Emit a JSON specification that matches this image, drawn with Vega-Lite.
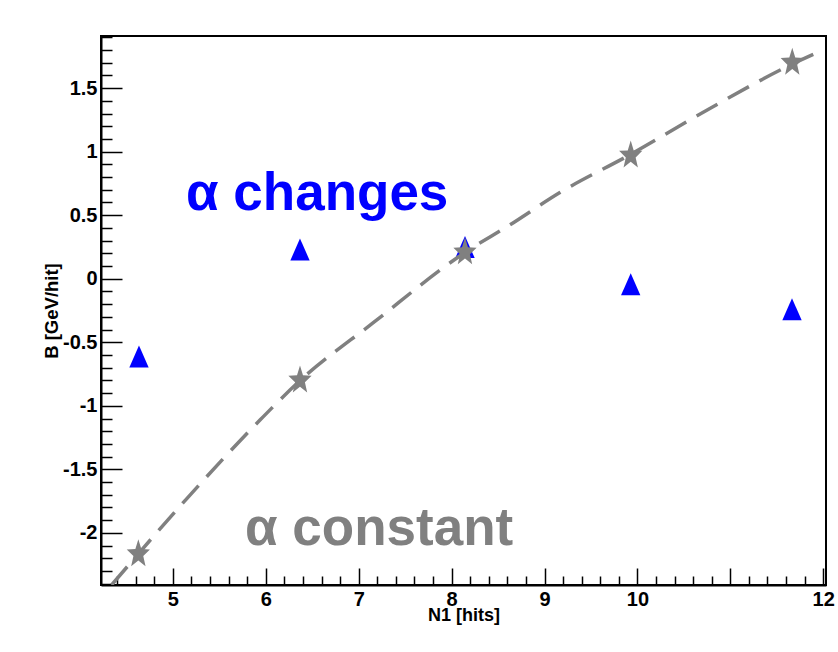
{
  "$schema": "https://vega.github.io/schema/vega-lite/v6.json",
  "width": 725,
  "height": 549,
  "autosize": {"type": "none"},
  "padding": {"left": 101, "top": 36, "right": 12, "bottom": 67},
  "background": "white",
  "config": {
    "view": {"stroke": "black", "strokeWidth": 2},
    "font": "Liberation Sans"
  },
  "datasets": {
    "changes": [
      {"N1": 4.635, "B": -0.612},
      {"N1": 6.368, "B": 0.23},
      {"N1": 8.144, "B": 0.25},
      {"N1": 9.928, "B": -0.043},
      {"N1": 11.664, "B": -0.24}
    ],
    "constant": [
      {"N1": 4.628, "B": -2.167},
      {"N1": 6.368, "B": -0.8},
      {"N1": 8.144, "B": 0.208},
      {"N1": 9.928, "B": 0.97},
      {"N1": 11.667, "B": 1.70}
    ],
    "fit": [
      {"N1": 4.34, "B": -2.41},
      {"N1": 5.15, "B": -1.73},
      {"N1": 5.94, "B": -1.11},
      {"N1": 6.37, "B": -0.80},
      {"N1": 7.15, "B": -0.35},
      {"N1": 8.14, "B": 0.205},
      {"N1": 8.62, "B": 0.42},
      {"N1": 9.17, "B": 0.68},
      {"N1": 9.93, "B": 0.98},
      {"N1": 10.78, "B": 1.34},
      {"N1": 11.67, "B": 1.69},
      {"N1": 11.97, "B": 1.79}
    ],
    "labels": [
      {"label": "α changes", "N1": 5.141, "B": 0.54},
      {"label": "α constant", "N1": 5.776, "B": -2.095}
    ]
  },
  "encoding": {
    "x": {
      "field": "N1",
      "type": "quantitative",
      "scale": {"domain": [4.226, 12.03], "nice": false, "zero": false},
      "axis": {
        "title": "N1 [hits]",
        "values": [4.4,4.6,4.8,5,5.2,5.4,5.6,5.8,6,6.2,6.4,6.6,6.8,7,7.2,7.4,7.6,7.8,8,8.2,8.4,8.6,8.8,9,9.2,9.4,9.6,9.8,10,10.2,10.4,10.6,10.8,11,11.2,11.4,11.6,11.8,12],
        "labelExpr": "abs(datum.value - round(datum.value)) < 0.001 && round(datum.value) != 11 ? toString(round(datum.value)) : ''",
        "tickSize": {"condition": {"test": "abs(datum.value - round(datum.value)) < 0.001", "value": -17}, "value": -9},
        "tickColor": "black",
        "tickWidth": 1.5,
        "domainColor": "black",
        "domainWidth": 2,
        "grid": false,
        "labelFont": "Liberation Sans",
        "labelFontWeight": "bold",
        "labelFontSize": 20,
        "labelColor": "black",
        "labelPadding": 21,
        "labelFlush": false,
        "labelOverlap": false,
        "titleFont": "Liberation Sans",
        "titleFontWeight": "bold",
        "titleFontSize": 18,
        "titleColor": "black",
        "titleY": 35,
        "titleBaseline": "alphabetic",
        "titleAlign": "center"
      }
    },
    "y": {
      "field": "B",
      "type": "quantitative",
      "scale": {"domain": [-2.41, 1.91], "nice": false, "zero": false},
      "axis": {
        "title": "B [GeV/hit]",
        "values": [-2.4,-2.3,-2.2,-2.1,-2,-1.9,-1.8,-1.7,-1.6,-1.5,-1.4,-1.3,-1.2,-1.1,-1,-0.9,-0.8,-0.7,-0.6,-0.5,-0.4,-0.3,-0.2,-0.1,0,0.1,0.2,0.3,0.4,0.5,0.6,0.7,0.8,0.9,1,1.1,1.2,1.3,1.4,1.5,1.6,1.7,1.8,1.9],
        "labelExpr": "abs(datum.value * 2 - round(datum.value * 2)) < 0.001 ? toString(datum.value) : ''",
        "tickSize": {"condition": {"test": "abs(datum.value * 2 - round(datum.value * 2)) < 0.001", "value": -21}, "value": -11},
        "tickColor": "black",
        "tickWidth": 1.5,
        "domainColor": "black",
        "domainWidth": 2,
        "grid": false,
        "labelFont": "Liberation Sans",
        "labelFontWeight": "bold",
        "labelFontSize": 20,
        "labelColor": "black",
        "labelPadding": 25,
        "labelFlush": false,
        "labelOverlap": false,
        "titleFont": "Liberation Sans",
        "titleFontWeight": "bold",
        "titleFontSize": 18.5,
        "titleColor": "black",
        "titleX": -44,
        "titleAngle": 270,
        "titleBaseline": "alphabetic",
        "titleAlign": "center"
      }
    }
  },
  "layer": [
    {
      "data": {"name": "changes"},
      "mark": {"type": "point", "shape": "M0,-1L0.88,1L-0.88,1Z", "filled": true, "color": "#0000ff", "opacity": 1, "size": 484}
    },
    {
      "data": {"name": "fit"},
      "mark": {"type": "line", "color": "#808080", "strokeWidth": 3.5, "strokeDash": [24, 12], "interpolate": "monotone", "clip": true}
    },
    {
      "data": {"name": "constant"},
      "mark": {"type": "point", "shape": "M0,-1L0.2,-0.34L0.78,-0.309L0.33,0.13L0.482,0.809L0,0.42L-0.482,0.809L-0.33,0.13L-0.78,-0.309L-0.2,-0.34Z", "filled": true, "color": "#808080", "opacity": 1, "size": 890}
    },
    {
      "data": {"name": "labels"},
      "mark": {"type": "text", "font": "Liberation Sans", "fontSize": 53, "fontWeight": "bold", "align": "left", "baseline": "alphabetic"},
      "encoding": {
        "text": {"field": "label"},
        "color": {"field": "label", "type": "nominal", "scale": {"domain": ["α changes", "α constant"], "range": ["#0000ff", "#808080"]}, "legend": null}
      }
    }
  ]
}
